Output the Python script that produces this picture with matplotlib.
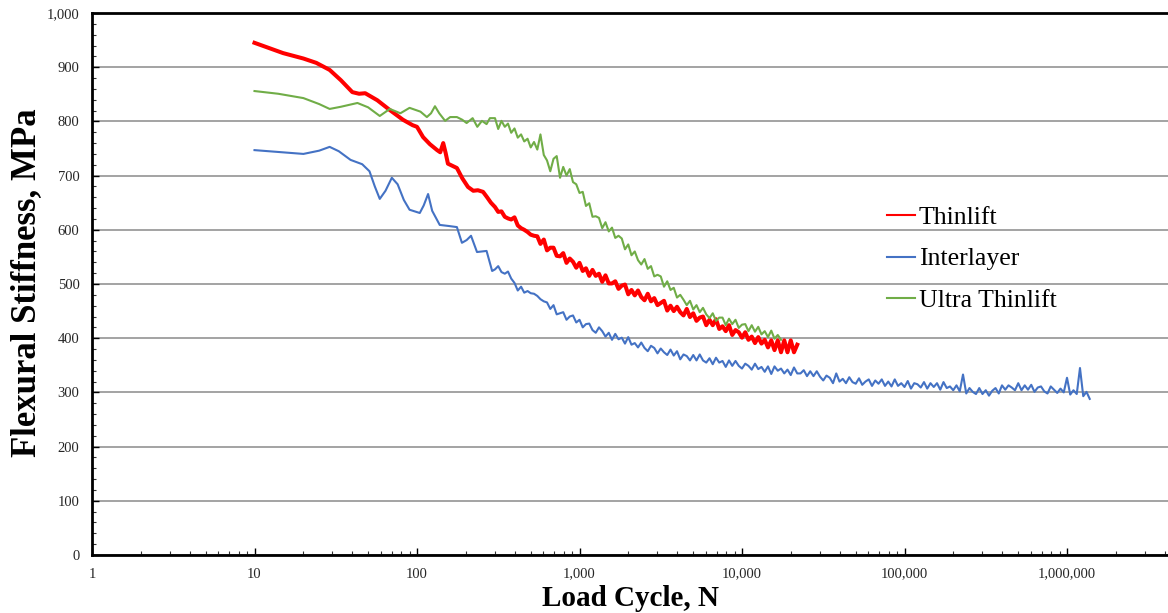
import matplotlib
matplotlib.use("Agg")
import matplotlib.pyplot as plt
from matplotlib.ticker import FixedLocator, FuncFormatter, LogLocator, NullFormatter, MultipleLocator
from matplotlib.lines import Line2D

# ---------------- data ----------------
# Early, smoothly varying part of each curve (load cycles < 300)
thin_N_early = [10, 15, 20, 24, 29, 34, 40, 44, 48, 57, 68, 82, 94, 100, 109, 120, 133, 139, 145,
                150, 155, 176, 190, 206, 222, 237, 255, 270, 285]
thin_S_early = [945, 926, 916, 908, 895, 876, 854, 851, 852, 839, 821, 803, 793, 790, 771, 758, 747,
                743, 760, 742, 722, 714, 695, 679, 672, 673, 670, 660, 650]

inter_N_early = [10, 15, 20, 25, 29, 33, 39, 46, 51, 55, 59, 64, 70, 76, 83, 90, 104, 110, 117, 124,
                 138, 157, 176, 189, 202, 215, 234, 268, 290]
inter_S_early = [747, 743, 740, 746, 753, 745, 729, 721, 708, 680, 657, 672, 696, 684, 655, 637, 631,
                 645, 666, 635, 609, 607, 605, 576, 581, 589, 559, 561, 524]

ultra_N_early = [10, 14, 20, 25, 29, 34, 43, 50, 59, 68, 79, 90, 105, 115, 122, 129, 137, 149, 160,
                 176, 190, 202, 220, 235, 251, 268, 281]
ultra_S_early = [856, 851, 843, 832, 823, 827, 834, 826, 810, 823, 815, 825, 818, 808, 815, 828, 815,
                 801, 808, 808, 803, 797, 806, 790, 801, 795, 806]

# Load cycles of the densely recorded (noisy) part
N_dense = [302, 316, 331, 347, 363, 380, 398, 417, 437, 457, 479, 501, 525, 550, 575, 603, 631, 661,
           692, 724, 759, 794, 832, 871, 912, 955,
           1000, 1047, 1096, 1148, 1202, 1259, 1318, 1380, 1445, 1514, 1585, 1660, 1738, 1820, 1905,
           1995, 2089, 2188, 2291, 2399, 2512, 2630, 2754, 2884, 3020, 3162, 3311, 3467, 3631, 3802,
           3981, 4169, 4365, 4571, 4786, 5012, 5248, 5495, 5754, 6026, 6310, 6607, 6918, 7244, 7586,
           7943, 8318, 8710, 9120, 9550,
           10000, 10470, 10960, 11480, 12020, 12590, 13180, 13800, 14450, 15140, 15850, 16600, 17380,
           18200, 19050, 19950, 20890, 21880, 22910, 23990, 25120, 26300, 27540, 28840, 30200, 31620,
           33110, 34670, 36310, 38020, 39810, 41690, 43650, 45710, 47860, 50120, 52480, 54950, 57540,
           60260, 63100, 66070, 69180, 72440, 75860, 79430, 83180, 87100, 91200, 95500,
           100000, 104700, 109600, 114800, 120200, 125900, 131800, 138000, 144500, 151400, 158500,
           166000, 173800, 182000, 190500, 199500, 208900, 218800, 229100, 239900, 251200, 263000,
           275400, 288400, 302000, 316200, 331100, 346700, 363100, 380200, 398100, 416900, 436500,
           457100, 478600, 501200, 524800, 549500, 575400, 602600, 631000, 660700, 691800, 724400,
           758600, 794300, 831800, 871000, 912000, 955000,
           1000000, 1047000, 1096000, 1148000, 1202000, 1259000, 1318000, 1380000]

thin_S_dense = [642, 633, 634, 624, 621, 619, 623, 608, 603, 600, 596, 591, 589, 588, 574, 582, 562,
                567, 567, 552, 551, 557, 539, 547, 541, 530, 539, 524, 529, 515, 526, 515, 519, 504,
                516, 501, 501, 505, 491, 497, 499, 481, 489, 479, 488, 476, 470, 482, 468, 474, 461,
                465, 469, 451, 460, 450, 458, 448, 442, 454, 439, 446, 432, 438, 440, 424, 434, 424,
                435, 417, 422, 413, 424, 406, 415, 411, 401, 411, 397, 403, 391, 402, 390, 397, 383,
                396, 378, 396, 374, 396, 374, 396, 374, 388]

ultra_S_dense = [806, 786, 801, 790, 796, 779, 787, 770, 776, 763, 768, 752, 762, 748, 776, 738, 728,
                 708, 731, 736, 696, 716, 700, 712, 688, 684, 668, 670, 644, 649, 624, 625, 622, 603,
                 614, 597, 604, 585, 589, 584, 564, 573, 553, 560, 544, 536, 546, 528, 533, 514, 517,
                 514, 495, 505, 489, 493, 475, 480, 471, 461, 469, 453, 461, 448, 456, 444, 437, 446,
                 432, 438, 438, 424, 436, 426, 434, 419, 425, 426, 413, 424, 412, 421, 407, 413, 402,
                 414, 399, 406, 397]

inter_S_dense = [527, 533, 522, 519, 523, 510, 502, 488, 495, 484, 487, 483, 482, 478, 472, 468, 466,
                 454, 461, 444, 446, 448, 434, 440, 442, 429, 434, 420, 426, 427, 415, 410, 420, 413,
                 403, 410, 397, 408, 398, 401, 390, 402, 388, 391, 383, 392, 382, 376, 386, 382, 372,
                 381, 374, 369, 379, 368, 376, 361, 370, 367, 359, 369, 359, 370, 359, 355, 363, 352,
                 364, 355, 358, 347, 359, 349, 358, 349, 344, 353, 349, 342, 353, 343, 347, 338, 348,
                 334, 348, 340, 344, 335, 342, 332, 346, 335, 335, 341, 330, 339, 330, 339, 329, 322,
                 331, 327, 317, 335, 320, 325, 317, 328, 319, 316, 326, 314, 320, 324, 312, 322, 316,
                 324, 312, 320, 311, 324, 312, 317, 310, 321, 307, 317, 315, 309, 319, 307, 317, 310,
                 317, 305, 319, 308, 311, 304, 313, 302, 333, 298, 308, 301, 297, 308, 297, 304, 294,
                 303, 308, 298, 313, 305, 313, 309, 304, 317, 304, 313, 305, 314, 301, 309, 311, 302,
                 298, 311, 305, 299, 307, 300, 327, 296, 304, 297, 345, 293, 301, 288]

series_names = ["Thinlift", "Interlayer", "Ultra Thinlift"]
series_colors = ["#FF0000", "#4472C4", "#70AD47"]

y_ticks = [0, 100, 200, 300, 400, 500, 600, 700, 800, 900, 1000]
x_ticks = [1, 10, 100, 1000, 10000, 100000, 1000000]

# ---------------- figure ----------------
W, H = 1168, 613
fig = plt.figure(figsize=(W / 100, H / 100), dpi=100)
ax = fig.add_axes([92 / W, 58 / H, 1137.5 / W, 542 / H])

serif = ["Liberation Serif", "DejaVu Serif"]

thin_N = thin_N_early + N_dense[:len(thin_S_dense)]
thin_S = thin_S_early + thin_S_dense
inter_N = inter_N_early + N_dense[:len(inter_S_dense)]
inter_S = inter_S_early + inter_S_dense
ultra_N = ultra_N_early + N_dense[:len(ultra_S_dense)]
ultra_S = ultra_S_early + ultra_S_dense

ax.plot(thin_N, thin_S, color=series_colors[0], lw=2.9, solid_joinstyle="round", zorder=3)
ax.plot(inter_N, inter_S, color=series_colors[1], lw=1.5, solid_joinstyle="round", zorder=4)
ax.plot(ultra_N, ultra_S, color=series_colors[2], lw=1.5, solid_joinstyle="round", zorder=5)

ax.set_xscale("log")
ax.set_xlim(1, 1e7)
ax.set_ylim(0, 1000)

ax.xaxis.set_major_locator(FixedLocator(x_ticks))
ax.xaxis.set_major_formatter(FuncFormatter(lambda v, p: f"{int(round(v)):,}"))
ax.xaxis.set_minor_locator(LogLocator(base=10, subs=range(2, 10), numticks=50))
ax.xaxis.set_minor_formatter(NullFormatter())

ax.yaxis.set_major_locator(FixedLocator(y_ticks))
ax.yaxis.set_major_formatter(FuncFormatter(lambda v, p: f"{int(round(v)):,}"))
ax.yaxis.set_minor_locator(MultipleLocator(20))

ax.grid(axis="y", which="major", color="#8a8a8a", lw=1.1, zorder=1)
ax.set_axisbelow(True)

for side in ["left", "bottom", "top"]:
    ax.spines[side].set_linewidth(2.0)
    ax.spines[side].set_color("black")
ax.spines["right"].set_visible(False)

ax.tick_params(axis="both", which="major", direction="in", length=5, width=1.0, color="black",
               labelsize=10.5, labelcolor="#262626")
ax.tick_params(axis="both", which="minor", direction="in", length=3, width=0.8, color="#333333")
ax.tick_params(axis="y", which="major", pad=9)
ax.tick_params(axis="x", which="major", pad=9)
for lbl in ax.get_xticklabels() + ax.get_yticklabels():
    lbl.set_fontfamily(serif)

fig.text(27 / W, 1 - 283 / H, "Flexural Stiffness, MPa", rotation=90, ha="center", va="center",
         fontsize=25, fontweight="bold", family=serif, color="black")
fig.text(630 / W, 7 / H, "Load Cycle, N", ha="center", va="baseline",
         fontsize=21, fontweight="bold", family=serif, color="black")

handles = [Line2D([], [], color=c, lw=1.5) for c in series_colors]
leg = ax.legend(handles, series_names, loc="center left",
                bbox_to_anchor=(874 / W, 1 - 259 / H), bbox_transform=fig.transFigure,
                frameon=False, borderpad=0, handlelength=1.1, handletextpad=0.15,
                labelspacing=0.72, prop={"family": serif, "size": 18.5})

fig.savefig("out.png", dpi=100)
